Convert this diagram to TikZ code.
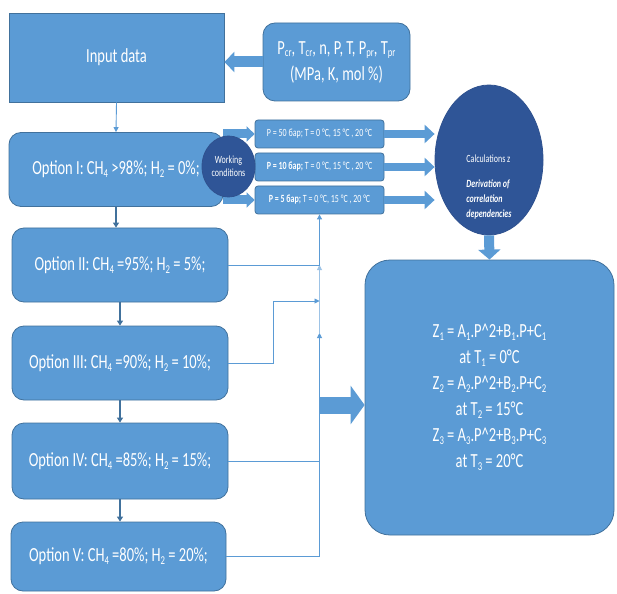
\documentclass[tikz,border=0pt]{standalone}
\usepackage{fontspec}
\setmainfont{Carlito}[FakeStretch=0.725]
\usepackage{tikz}
\usetikzlibrary{shapes.geometric, arrows.meta}
\definecolor{boxfill}{HTML}{5B9BD5}
\definecolor{boxdraw}{HTML}{41719C}
\definecolor{darkfill}{HTML}{2F5597}
\definecolor{darkdraw}{HTML}{2F528F}
\definecolor{lnblue}{HTML}{5B9BD5}
\newcommand\lowsub[1]{\raisebox{-0.3ex}{\scalebox{0.6}{#1}}}
\tikzset{
  blk/.style={rectangle, draw=boxdraw, fill=boxfill, line width=0.8pt, text=white, align=center, inner sep=2pt},
  big/.style={font=\fontsize{20}{26}\selectfont},
  opt/.style={blk, big, rounded corners=12pt, minimum width=215pt, minimum height=74pt},
  pbox/.style={blk, rounded corners=3pt, minimum width=129pt, minimum height=28pt, font=\fontsize{11}{13}\selectfont},
  oval/.style={ellipse, draw=darkdraw, fill=darkfill, line width=0.8pt, text=white, inner sep=1pt},
  ln/.style={draw=lnblue, line width=0.9pt},
  arr/.style={ln, -{Triangle[length=5pt, width=5pt]}},
  darr/.style={draw=boxdraw, line width=2pt, -{Triangle[length=5pt, width=6pt]}},
  fat/.style={draw=boxfill, line width=#1},
  fat/.default=9pt,
}

\begin{document}
\begin{tikzpicture}[x=1pt, y=-1pt]
  \useasboundingbox (0,0) rectangle (617,593);
  % input side
  \node[blk, big, minimum width=215pt, minimum height=89pt] (inp) at (116.5,57.5) {Input data};
  \node[blk, big, rounded corners=12pt, minimum width=147pt, minimum height=78pt] (par) at (336.5,62)
    {P\lowsub{cr}, T\lowsub{cr}, n, P, T, P\lowsub{pr}, T\lowsub{pr}\\(MPa, K, mol \%)};
  % options
  \node[opt, minimum width=214pt] (opt1) at (116,169.5) {Option I: CH\lowsub{4} >98\%; H\lowsub{2} = 0\%;};
  \node[opt, minimum width=216pt] (opt2) at (120,265) {Option II: CH\lowsub{4} =95\%; H\lowsub{2} = 5\%;};
  \node[opt, minimum width=216pt] (opt3) at (120,363) {Option III: CH\lowsub{4} =90\%; H\lowsub{2} = 10\%;};
  \node[opt, minimum width=216pt, minimum height=76pt] (opt4) at (120,461) {Option IV: CH\lowsub{4} =85\%; H\lowsub{2} = 15\%;};
  \node[opt, minimum height=69pt] (opt5) at (118.5,556.5) {Option V: CH\lowsub{4} =80\%; H\lowsub{2} = 20\%;};
  % working conditions
  \node[pbox] (p50) at (319.5,134) {P = 50 бар; T = 0 °C, 15 °C , 20 °C};
  \node[pbox] (p10) at (319.5,167) {\textbf{P = 10 бар;} T = 0 °C, 15 °C , 20 °C};
  \node[pbox] (p5) at (319.5,200) {\textbf{P = 5 бар;} T = 0 °C, 15 °C , 20 °C};
  \node[oval, minimum width=108pt, minimum height=150pt, font=\fontsize{11}{15}\selectfont] (calc) at (489,160)
    {\raisebox{-30pt}[0pt][0pt]{\begin{tabular}{@{}l@{}}Calculations z\\[10pt]\textbf{\textit{Derivation of}}\\\textbf{\textit{correlation}}\\\textbf{\textit{dependencies}}\end{tabular}}};
  \node[blk, big, rounded corners=25pt, minimum width=249pt, minimum height=275pt] (res) at (489.5,397.5)
    {Z\lowsub{1} = A\lowsub{1}.P\textasciicircum 2+B\lowsub{1}.P+C\lowsub{1}\\
     at T\lowsub{1} = 0°C\\
     Z\lowsub{2} = A\lowsub{2}.P\textasciicircum 2+B\lowsub{2}.P+C\lowsub{2}\\
     at T\lowsub{2} = 15°C\\
     Z\lowsub{3} = A\lowsub{3}.P\textasciicircum 2+B\lowsub{3}.P+C\lowsub{3}\\
     at T\lowsub{3} = 20°C};

  % block arrows
  \draw[fat=11pt, -{Triangle[length=10pt, width=20pt]}] (par.west) -- (inp.east |- par.west);
  \foreach \p in {p50, p10, p5} {
    \draw[fat=9pt, -{Triangle[length=8pt, width=15pt]}] (opt1.east |- \p.west) -- (\p.west);
    \draw[fat=8pt, -{Triangle[length=10pt, width=18pt]}] (\p.east) -- (\p.east -| calc.west);
  }
  \draw[fat=10pt, -{Triangle[length=10pt, width=22pt]}] (calc.south) -- (res.north);

  % thin connectors
  \draw[arr] (inp.south) -- (opt1.north);
  \draw[darr] (opt1.south) -- (opt1.south |- opt2.north);
  \draw[darr] (opt2.south) -- (opt2.south |- opt3.north);
  \draw[darr] (opt3.south) -- (opt3.south |- opt4.north);
  \draw[darr] (opt4.south) -- (opt4.south |- opt5.north);

  \coordinate (bus5) at (p5.south |- opt5.east);
  \coordinate (bus4) at (p5.south |- opt4.east);
  \coordinate (bus2) at (p5.south |- opt2.east);
  \coordinate (bus3) at (319.5,301);
  \coordinate (busm) at (319.5,333);
  \coordinate (bus6) at (319.5,405);
  \draw[ln] (opt5.east) -- (bus5);
  \draw[ln] (opt4.east) -- (bus4);
  \draw[arr] (bus5) -- (busm);
  \draw[arr, draw=lnblue!60] (busm) -- (bus2);
  \draw[ln] (opt2.east) -- (bus2);
  \draw[arr] (opt3.east) -- ++(45,0) |- (bus3);
  \draw[arr] (bus2) -- (p5.south);
  \draw[fat=17pt, -{Triangle[length=14pt, width=38pt]}] (bus6) -- (bus6 -| res.west);

  \node[oval, minimum width=53pt, minimum height=61pt, font=\fontsize{11}{13}\selectfont, align=center] (work) at (228.5,166.5) {Working\\conditions};
\end{tikzpicture}
\end{document}
